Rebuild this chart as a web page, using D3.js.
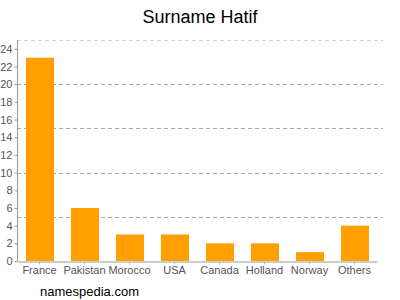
<!DOCTYPE html>
<html>
<head>
<meta charset="utf-8">
<script src="https://cdn.jsdelivr.net/npm/d3@7"></script>
<style>
  body { margin: 0; background: #fff; }
  svg { display: block; font-family: "Liberation Sans", Arial, sans-serif; }
</style>
</head>
<body>
<div id="chart"></div>
<script>
var categories = ['France', 'Pakistan', 'Morocco', 'USA', 'Canada', 'Holland', 'Norway', 'Others'];
var counts = [23, 6, 3, 3, 2, 2, 1, 4];
var yTicks = [0, 2, 4, 6, 8, 10, 12, 14, 16, 18, 20, 22, 24];
var gridValues = [5, 10, 15, 20, 25];

var width = 400, height = 300;
var plotLeft = 17, plotRight = 377, plotTop = 40, plotBottom = 261;

var svg = d3.select('#chart').append('svg')
    .attr('width', width)
    .attr('height', height);

var x = d3.scaleBand().domain(categories).range([plotLeft, plotRight]).paddingInner(0.38).paddingOuter(0.19);
var y = d3.scaleLinear().domain([0, 25]).range([plotBottom, plotTop]);

// dashed grid
svg.append('g').selectAll('line')
    .data(gridValues)
    .enter().append('line')
    .attr('x1', plotLeft)
    .attr('x2', 383)
    .attr('y1', function(d) { return Math.round(y(d)) + 0.5; })
    .attr('y2', function(d) { return Math.round(y(d)) + 0.5; })
    .attr('stroke', function(d) { return d === 25 ? '#d4d4d4' : '#a8a8a8'; })
    .attr('stroke-width', 1)
    .attr('stroke-dasharray', '4,3');

// bars
svg.append('g').selectAll('rect')
    .data(counts)
    .enter().append('rect')
    .attr('x', function(d, i) { return Math.round(x(categories[i])); })
    .attr('y', function(d) { return y(d); })
    .attr('width', Math.round(x.bandwidth()))
    .attr('height', function(d) { return plotBottom - y(d); })
    .attr('fill', '#ffa000');

// y axis
var yAxis = svg.append('g')
    .attr('transform', 'translate(' + (plotLeft + 0.5) + ',0)')
    .call(d3.axisLeft(y).tickValues(yTicks).tickSize(3).tickPadding(2));
yAxis.select('.domain').attr('stroke', '#999').attr('d', 'M0,' + plotTop + 'V' + plotBottom);
yAxis.selectAll('.tick line').attr('stroke', '#999');
yAxis.selectAll('.tick text').attr('fill', '#555').style('font-size', '11px');

// x axis
var xAxis = svg.append('g')
    .attr('transform', 'translate(0,' + (plotBottom + 0.5) + ')')
    .call(d3.axisBottom(x).tickSize(3).tickSizeOuter(0).tickPadding(2));
xAxis.select('.domain').attr('stroke', '#999');
xAxis.selectAll('.tick line').attr('stroke', '#bbb');
xAxis.selectAll('.tick text').attr('fill', '#555').style('font-size', '11px');

// title
svg.append('text')
    .attr('x', 200)
    .attr('y', 23)
    .attr('text-anchor', 'middle')
    .attr('fill', '#000')
    .style('font-size', '18px')
    .text('Surname Hatif');

// footer
svg.append('text')
    .attr('x', 40)
    .attr('y', 296)
    .attr('fill', '#000')
    .style('font-size', '13px')
    .text('namespedia.com');
</script>
</body>
</html>
